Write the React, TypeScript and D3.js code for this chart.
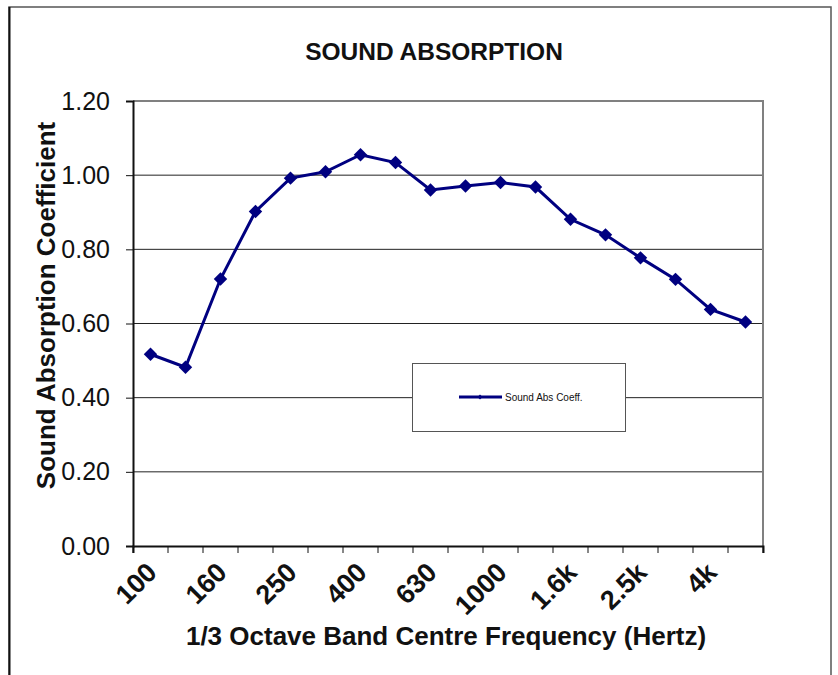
import {useEffect, useRef} from "react";
import * as d3 from "d3";

const bands = ["100", "125", "160", "200", "250", "315", "400", "500", "630", "800", "1000", "1250", "1.6k", "2k", "2.5k", "3.15k", "4k", "5k"];
const absCoeff = [0.517, 0.482, 0.720, 0.902, 0.992, 1.009, 1.055, 1.034, 0.960, 0.971, 0.980, 0.968, 0.881, 0.839, 0.777, 0.719, 0.638, 0.604];
const shownLabels = ["100", "160", "250", "400", "630", "1000", "1.6k", "2.5k", "4k"];
const yTicks = [0, 0.2, 0.4, 0.6, 0.8, 1.0, 1.2];

const App = () => {
    const svgRef = useRef<SVGSVGElement | null>(null);

    useEffect(() => {
        const W = 838, H = 675;
        const plot = {left: 133, right: 763, top: 101, bottom: 546};
        const font = "Liberation Sans, Arial, sans-serif";
        const navy = "#000080";

        const svg = d3.select(svgRef.current)
            .attr("width", W)
            .attr("height", H);
        svg.selectAll("*").remove();

        svg.append("rect").attr("width", W).attr("height", H).attr("fill", "#fff");

        // outer frame
        svg.append("rect")
            .attr("x", 9).attr("y", 7)
            .attr("width", 822).attr("height", 690)
            .attr("fill", "none")
            .attr("stroke", "#555").attr("stroke-width", 1.5);
        svg.append("line")
            .attr("x1", 9.5).attr("x2", 9.5).attr("y1", 7).attr("y2", H)
            .attr("stroke", "#111").attr("stroke-width", 2);

        const x = d3.scaleBand<string>()
            .domain(bands)
            .range([plot.left, plot.right]);

        const y = d3.scaleLinear()
            .domain([0, 1.2])
            .range([plot.bottom, plot.top]);

        // gridlines
        svg.append("g")
            .selectAll("line")
            .data(yTicks.filter((t) => t > 0 && t < 1.2))
            .enter()
            .append("line")
            .attr("x1", plot.left).attr("x2", plot.right)
            .attr("y1", (d) => y(d)).attr("y2", (d) => y(d))
            .attr("stroke", "#222").attr("stroke-width", 1);

        // plot border top/right
        svg.append("path")
            .attr("d", `M${plot.left},${y(1.2)}H${plot.right}V${plot.bottom}`)
            .attr("fill", "none")
            .attr("stroke", "#808080").attr("stroke-width", 2);

        // y axis
        const yAxis = svg.append("g")
            .attr("transform", `translate(${plot.left},0)`)
            .call(d3.axisLeft(y).tickValues(yTicks).tickSize(7).tickPadding(16).tickFormat(d3.format(".2f")));
        yAxis.select(".domain").attr("stroke", "#111").attr("stroke-width", 2);
        yAxis.selectAll(".tick line").attr("stroke", "#111");
        yAxis.selectAll("text")
            .attr("font-family", font)
            .attr("font-size", 25)
            .attr("fill", "#111");

        // x axis: ticks sit on category boundaries
        const xAxis = svg.append("g")
            .attr("transform", `translate(0,${plot.bottom})`)
            .call(d3.axisBottom(x).tickSize(7).tickFormat(() => ""));
        xAxis.select(".domain").attr("stroke", "#111").attr("stroke-width", 2);
        xAxis.selectAll(".tick").remove();
        xAxis.selectAll(".bt")
            .data(d3.range(bands.length + 1))
            .enter()
            .append("line")
            .attr("class", "bt")
            .attr("x1", (i) => plot.left + i * x.bandwidth())
            .attr("x2", (i) => plot.left + i * x.bandwidth())
            .attr("y1", 0).attr("y2", 7)
            .attr("stroke", "#111");

        svg.append("g")
            .selectAll("text")
            .data(shownLabels)
            .enter()
            .append("text")
            .attr("transform", (d) => `translate(${(x(d) ?? 0) + x.bandwidth() / 2 + 8},574) rotate(-45)`)
            .attr("text-anchor", "end")
            .attr("font-family", font)
            .attr("font-weight", "bold")
            .attr("font-size", 27)
            .attr("fill", "#111")
            .text((d) => d);

        // line + markers
        const line = d3.line<number>()
            .x((_, i) => (x(bands[i]) ?? 0) + x.bandwidth() / 2)
            .y((d) => y(d));

        svg.append("path")
            .datum(absCoeff)
            .attr("d", line)
            .attr("fill", "none")
            .attr("stroke", navy)
            .attr("stroke-width", 3);

        const diamond = d3.symbol().type(d3.symbolDiamond2).size(115);
        svg.append("g")
            .selectAll("path")
            .data(absCoeff)
            .enter()
            .append("path")
            .attr("d", diamond)
            .attr("transform", (d, i) => `translate(${(x(bands[i]) ?? 0) + x.bandwidth() / 2},${y(d)})`)
            .attr("fill", navy);

        // legend
        const lg = svg.append("g");
        lg.append("rect")
            .attr("x", 412.5).attr("y", 363.5)
            .attr("width", 213).attr("height", 68)
            .attr("fill", "#fff")
            .attr("stroke", "#555").attr("stroke-width", 1);
        lg.append("line")
            .attr("x1", 459).attr("x2", 502).attr("y1", 397).attr("y2", 397)
            .attr("stroke", navy).attr("stroke-width", 3);
        lg.append("path")
            .attr("d", d3.symbol().type(d3.symbolDiamond2).size(16))
            .attr("transform", "translate(480,397)")
            .attr("fill", navy);
        lg.append("text")
            .attr("x", 505).attr("y", 401)
            .attr("font-family", font)
            .attr("font-size", 10)
            .attr("fill", "#111")
            .text("Sound Abs Coeff.");

        // titles
        svg.append("text")
            .attr("x", 434).attr("y", 60)
            .attr("text-anchor", "middle")
            .attr("font-family", font)
            .attr("font-weight", "bold")
            .attr("font-size", 24.5)
            .attr("fill", "#111")
            .text("SOUND ABSORPTION");

        svg.append("text")
            .attr("transform", `translate(55,${(plot.top + plot.bottom) / 2 - 18}) rotate(-90)`)
            .attr("text-anchor", "middle")
            .attr("font-family", font)
            .attr("font-weight", "bold")
            .attr("font-size", 26)
            .attr("fill", "#111")
            .text("Sound Absorption Coefficient");

        svg.append("text")
            .attr("x", 446).attr("y", 645)
            .attr("text-anchor", "middle")
            .attr("font-family", font)
            .attr("font-weight", "bold")
            .attr("font-size", 26)
            .attr("fill", "#111")
            .text("1/3 Octave Band Centre Frequency (Hertz)");
    }, []);

    return <svg ref={svgRef} style={{position: "absolute", left: 0, top: 0, display: "block"}}></svg>;
};

export default App;
